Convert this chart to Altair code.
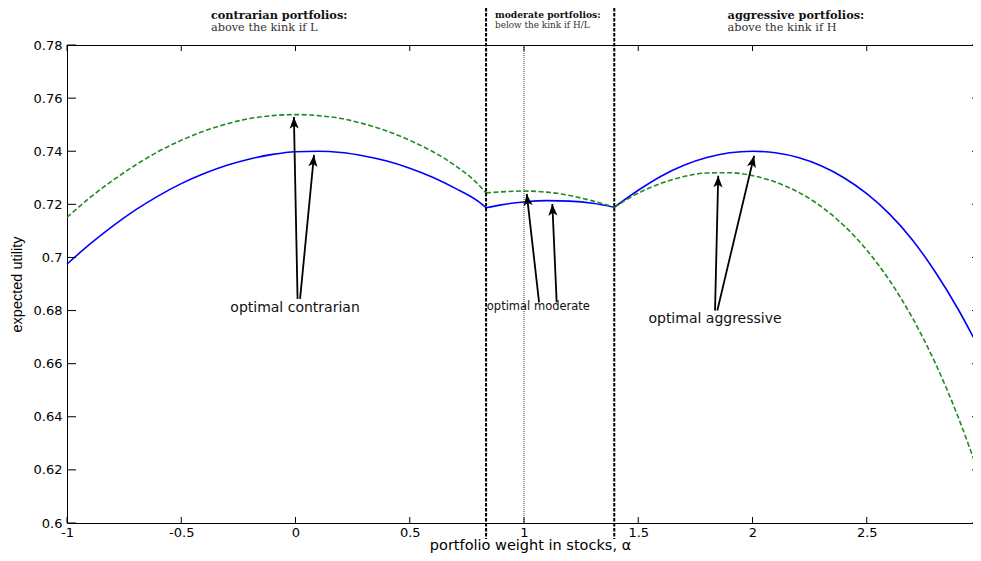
import math
import altair as alt
import pandas as pd

# ---------------- data ----------------
# contrarian region (alpha < kink 1)
c_alpha = [-1.0, -0.9, -0.8, -0.7, -0.6, -0.5, -0.4, -0.3, -0.2, -0.1, 0.0,
           0.1, 0.2, 0.3, 0.4, 0.5, 0.6, 0.7, 0.8, 0.834]
c_blue = [0.6975, 0.7050, 0.7118, 0.7179, 0.7232, 0.7278, 0.7316, 0.7347, 0.7371, 0.7388, 0.7398,
          0.7400, 0.7395, 0.7382, 0.7363, 0.7336, 0.7302, 0.7260, 0.7211, 0.7187]
c_green = [0.7151, 0.7225, 0.7290, 0.7348, 0.7399, 0.7441, 0.7476, 0.7503, 0.7523, 0.7534, 0.7538,
           0.7534, 0.7523, 0.7503, 0.7476, 0.7441, 0.7399, 0.7345, 0.7275, 0.7243]
# moderate region (between kinks)
m_alpha = [0.834, 0.9, 1.0, 1.1, 1.2, 1.3, 1.395]
m_blue = [0.7187, 0.7198, 0.7209, 0.7214, 0.7212, 0.7204, 0.7189]
m_green = [0.7243, 0.7247, 0.7250, 0.7246, 0.7233, 0.7213, 0.7189]
# aggressive region (alpha > kink 2)
a_alpha = [1.395, 1.5, 1.6, 1.7, 1.8, 1.9, 2.0, 2.1, 2.2, 2.3, 2.4, 2.5, 2.6, 2.7, 2.8, 2.9, 3.0]
a_blue = [0.7189, 0.7253, 0.7306, 0.7347, 0.7376, 0.7394, 0.7400, 0.7394, 0.7376, 0.7345, 0.7300,
          0.7240, 0.7163, 0.7066, 0.6945, 0.6805, 0.6644]
a_green = [0.7189, 0.7242, 0.7279, 0.7305, 0.7318, 0.7319, 0.7308, 0.7284, 0.7246, 0.7192, 0.7120,
           0.7028, 0.6913, 0.6772, 0.6602, 0.6399, 0.6162]

kinks = [0.834, 1.395]
full_share = [1.0]

x_ticks = [-1, -0.5, 0, 0.5, 1, 1.5, 2, 2.5, 3]
y_ticks = [0.6, 0.62, 0.64, 0.66, 0.68, 0.7, 0.72, 0.74, 0.76, 0.78]

region_x = [-0.370, 0.873, 1.891]
region_head = ["contrarian portfolios:", "moderate portfolios:", "aggressive portfolios:"]
region_sub = ["above the kink if L", "below the kink if H/L", "above the kink if H"]

arrow_tail_x = [0.009, 0.020, 1.066, 1.143, 1.836, 1.846]
arrow_tail_y = [0.6844, 0.6844, 0.6831, 0.6831, 0.6800, 0.6800]
arrow_tip_x = [-0.007, 0.081, 1.012, 1.124, 1.850, 2.007]
arrow_tip_y = [0.7529, 0.7386, 0.7239, 0.7201, 0.7308, 0.7383]

label_text = ["optimal contrarian", "optimal moderate", "optimal aggressive"]
label_x = [-0.002, 1.063, 1.836]
label_y = [0.6810, 0.6812, 0.6768]

# ---------------- layout ----------------
W, H = 914, 478
XDOM = [-1, 3]
YDOM = [0.6, 0.78]
xs = alt.Scale(domain=XDOM, nice=False, zero=False)
ys = alt.Scale(domain=YDOM, nice=False, zero=False)
SANS = "DejaVu Sans"
SERIF = "DejaVu Serif"
XT = "portfolio weight in stocks, α"
YT = "expected utility"

rows = []
for seg, al, bl, gr in [("c", c_alpha, c_blue, c_green),
                        ("m", m_alpha, m_blue, m_green),
                        ("a", a_alpha, a_blue, a_green)]:
    for a, b, g in zip(al, bl, gr):
        rows.append({"alpha": a, "blue": b, "green": g, "seg": seg})
curves = pd.DataFrame(rows)

px_x = W / (XDOM[1] - XDOM[0])
px_y = H / (YDOM[1] - YDOM[0])
arr = pd.DataFrame({"tx": arrow_tail_x, "ty": arrow_tail_y, "hx": arrow_tip_x, "hy": arrow_tip_y})
arr["ang"] = [
    math.degrees(math.atan2((hx - tx) * px_x, (hy - ty) * px_y)) % 360
    for tx, ty, hx, hy in zip(arrow_tail_x, arrow_tail_y, arrow_tip_x, arrow_tip_y)
]
labels = pd.DataFrame({"t": label_text, "x": label_x, "y": label_y})
regions = pd.DataFrame({"x": region_x, "head": region_head, "sub": region_sub})
xt = pd.DataFrame({"v": x_ticks})
yt = pd.DataFrame({"v": y_ticks})

x_axis = alt.Axis(values=x_ticks, labelExpr="'' + datum.value", labelFlush=False, ticks=False,
                  domain=False, grid=False, labelFont=SANS, labelFontSize=13, labelColor="black",
                  labelPadding=3, titleFont=SANS, titleFontSize=14.5, titleFontWeight="normal",
                  titleColor="black", titleX=463, titleY=26.5, titleBaseline="alphabetic",
                  titleAnchor="start", titleAlign="center")
y_axis = alt.Axis(values=y_ticks, labelExpr="'' + datum.value", ticks=False, domain=False, grid=False,
                  labelFont=SANS, labelFontSize=13, labelColor="black", labelPadding=5,
                  titleFont="Liberation Sans", titleFontSize=14.5, titleFontWeight="normal",
                  titleColor="black", titleX=-50, titleY=239, titleAngle=270, titleAlign="center",
                  titleBaseline="middle", titleAnchor="start")


def X(field):
    return alt.X(field, scale=xs, axis=x_axis, title=XT)


def Y(field):
    return alt.Y(field, scale=ys, axis=y_axis, title=YT)


blue = alt.Chart(curves).mark_line(color="#0000ff", strokeWidth=1.6, interpolate="monotone").encode(
    x=X("alpha:Q"), y=Y("blue:Q"), detail="seg:N")
green = alt.Chart(curves).mark_line(color="#1f8a1f", strokeWidth=1.6, strokeDash=[5, 2.5],
                                    interpolate="monotone").encode(
    x=X("alpha:Q"), y=Y("green:Q"), detail="seg:N")

bottom_ticks = alt.Chart(xt).mark_rule(color="black", strokeWidth=1).encode(
    x=X("v:Q"), y=alt.value(H), y2=alt.value(H - 6))
top_ticks = alt.Chart(xt).mark_rule(color="black", strokeWidth=1).encode(
    x=X("v:Q"), y=alt.value(0), y2=alt.value(6))
left_ticks = alt.Chart(yt).mark_rule(color="black", strokeWidth=1).encode(
    y=Y("v:Q"), x=alt.value(0), x2=alt.value(9))
right_ticks = alt.Chart(yt).mark_rule(color="black", strokeWidth=1).encode(
    y=Y("v:Q"), x=alt.value(W), x2=alt.value(W - 9))

kink_lines = alt.Chart(pd.DataFrame({"k": kinks})).mark_rule(
    color="black", strokeWidth=2, strokeDash=[3.5, 1.5]).encode(
    x=X("k:Q"), y=alt.value(-37), y2=alt.value(H + 16))
dotted = alt.Chart(pd.DataFrame({"k": full_share})).mark_rule(
    color="#333333", strokeWidth=1, strokeDash=[1, 1]).encode(
    x=X("k:Q"), y=alt.value(0), y2=alt.value(H))

shafts = alt.Chart(arr).mark_rule(color="black", strokeWidth=1.8).encode(
    x=X("tx:Q"), y=Y("ty:Q"), x2="hx:Q", y2="hy:Q")
heads = alt.Chart(arr).mark_point(shape="M0,0L-0.7,1.8L0,1.35L0.7,1.8Z", filled=True, size=170,
                                  color="black", opacity=1, strokeWidth=0).encode(
    x=X("hx:Q"), y=Y("hy:Q"), angle=alt.Angle("ang:Q", scale=None))

big_labels = alt.Chart(labels).transform_filter("datum.t != 'optimal moderate'").mark_text(
    font=SANS, fontSize=14, color="#111111", align="center", baseline="middle").encode(
    x=X("x:Q"), y=Y("y:Q"), text="t:N")
small_labels = alt.Chart(labels).transform_filter("datum.t == 'optimal moderate'").mark_text(
    font=SANS, fontSize=11.5, color="#111111", align="center", baseline="middle").encode(
    x=X("x:Q"), y=Y("y:Q"), text="t:N")

head_big = alt.Chart(regions).transform_filter("datum.head != 'moderate portfolios:'").mark_text(
    font=SERIF, fontSize=11.3, fontWeight="bold", color="#111111", align="left",
    baseline="alphabetic").encode(x=X("x:Q"), y=alt.value(-26.5), text="head:N")
sub_big = alt.Chart(regions).transform_filter("datum.head != 'moderate portfolios:'").mark_text(
    font=SERIF, fontSize=11.3, color="#333333", align="left",
    baseline="alphabetic").encode(x=X("x:Q"), y=alt.value(-14), text="sub:N")
head_small = alt.Chart(regions).transform_filter("datum.head == 'moderate portfolios:'").mark_text(
    font=SERIF, fontSize=9.2, fontWeight="bold", color="#111111", align="left",
    baseline="alphabetic").encode(x=X("x:Q"), y=alt.value(-27.5), text="head:N")
sub_small = alt.Chart(regions).transform_filter("datum.head == 'moderate portfolios:'").mark_text(
    font=SERIF, fontSize=8.9, color="#333333", align="left",
    baseline="alphabetic").encode(x=X("x:Q"), y=alt.value(-17.5), text="sub:N")

chart = alt.layer(
    blue, green, bottom_ticks, top_ticks, left_ticks, right_ticks, dotted, kink_lines,
    shafts, heads, big_labels, small_labels, head_big, sub_big, head_small, sub_small,
).properties(
    width=W, height=H,
    padding={"left": 59, "top": 37, "right": -8, "bottom": 30},
    autosize=alt.AutoSizeParams(type="none"),
).configure_view(stroke="black", strokeWidth=1)

chart.save("out.html", embed_options={"renderer": "svg", "actions": False})
